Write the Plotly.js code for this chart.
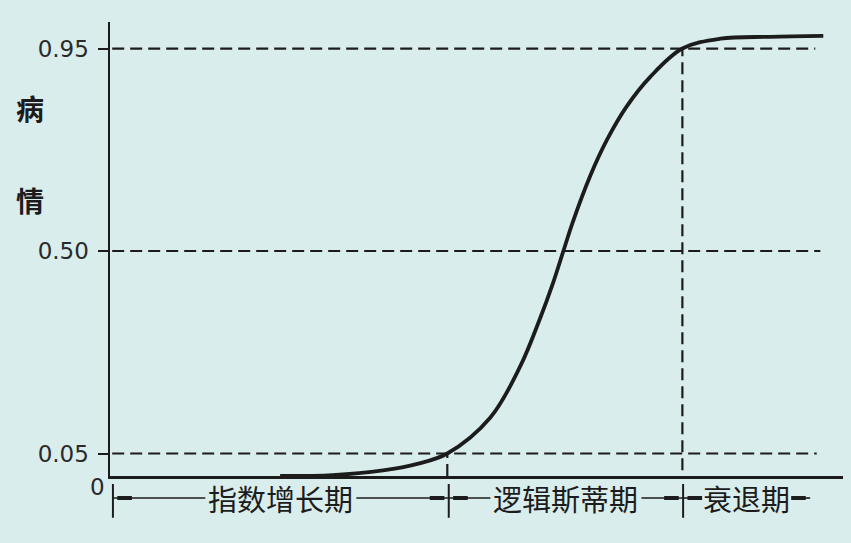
<!DOCTYPE html>
<html>
<head>
<meta charset="utf-8">
<script src="https://cdn.plot.ly/plotly-3.0.1.min.js"></script>
<style>html,body{margin:0;padding:0;background:#d9edec;}#chart{width:851px;height:543px;}</style>
</head>
<body>
<div id="chart"></div>
<script>
// Logistic disease progression curve (schematic), time in arbitrary units
var curveX = [23.3, 30.5, 37.4, 42.1, 46.2, 52.1, 56.2, 58.9, 60.7, 62.1, 63.4, 65.8, 68.1, 70.8, 74.0, 78.4, 83.6, 90.4, 97.7];
var curveY = [0, 0.002, 0.0125, 0.027, 0.05, 0.130, 0.244, 0.350, 0.430, 0.5, 0.565, 0.668, 0.748, 0.822, 0.887, 0.95, 0.972, 0.976, 0.978];

// reference levels and where the curve reaches them
var levels = [0.05, 0.50, 0.95];
var levelLabels = ['0.05', '0.50', '0.95'];
var levelEnds = [96.8, 97.3, 96.6];
var crossX = [46.2, 78.4];
var crossY = [0.05, 0.95];
var crossBottom = [0, 0.013];

// phases along the time axis
var phaseNames = ['指数增长期', '逻辑斯蒂期', '衰退期'];
var phaseStart = [0.4, 46.4, 78.5];
var phaseEnd = [46.4, 78.5, 95.9];

var ink = '#1c1c1c';
var bg = '#d9edec';
var dash = '12px,6px';
var labelSize = 29;
var pxPerUnit = 733 / 100.4;

var traces = [];
levels.forEach(function (lv, i) {
  traces.push({x: [0.3, levelEnds[i]], y: [lv, lv], mode: 'lines', hoverinfo: 'skip',
    line: {color: ink, width: 2.2, dash: dash}, showlegend: false});
});
crossX.forEach(function (cx, i) {
  traces.push({x: [cx, cx], y: [crossBottom[i], crossY[i]], mode: 'lines', hoverinfo: 'skip',
    line: {color: ink, width: 2.2, dash: dash}, showlegend: false});
});
traces.push({x: curveX, y: curveY, mode: 'lines', line: {color: ink, width: 3.8, shape: 'spline', smoothing: 1},
  showlegend: false});

var barY = -0.0485;
var shapes = [];
var annotations = [];
phaseNames.forEach(function (name, i) {
  var s = phaseStart[i], e = phaseEnd[i], c = (s + e) / 2;
  var half = (name.length * labelSize / 2 + 3) / pxPerUnit;
  shapes.push({type: 'line', xref: 'x', yref: 'paper', x0: s, x1: c - half, y0: barY, y1: barY,
    line: {color: ink, width: 1.6}});
  shapes.push({type: 'line', xref: 'x', yref: 'paper', x0: c + half, x1: e, y0: barY, y1: barY,
    line: {color: ink, width: 1.6}});
  shapes.push({type: 'line', xref: 'x', yref: 'paper', x0: s, x1: s, y0: -0.0176, y1: -0.092,
    line: {color: ink, width: 2}});
  shapes.push({type: 'line', xref: 'x', yref: 'paper', x0: s + 0.6, x1: s + 2.6, y0: barY, y1: barY,
    line: {color: ink, width: 4}});
  shapes.push({type: 'line', xref: 'x', yref: 'paper', x0: e - 2.6, x1: e - 0.6, y0: barY, y1: barY,
    line: {color: ink, width: 4}});
  annotations.push({x: c, y: barY, xref: 'x', yref: 'paper', text: name, showarrow: false,
    xanchor: 'center', yanchor: 'middle',
    font: {family: 'Noto Sans CJK SC', size: labelSize, color: ink}});
});

annotations.push({x: -0.0177, y: -0.024, xref: 'paper', yref: 'paper', text: '0', showarrow: false,
  xanchor: 'center', yanchor: 'middle', font: {family: 'DejaVu Sans', size: 23, color: '#2a2a2a'}});
annotations.push({x: -0.109, y: 0.8106, xref: 'paper', yref: 'paper', text: '<b>病</b>', showarrow: false,
  xanchor: 'center', yanchor: 'middle', font: {family: 'Noto Sans CJK SC', size: 28, color: ink}});
annotations.push({x: -0.109, y: 0.608, xref: 'paper', yref: 'paper', text: '<b>情</b>', showarrow: false,
  xanchor: 'center', yanchor: 'middle', font: {family: 'Noto Sans CJK SC', size: 28, color: ink}});

var layout = {
  width: 851, height: 543,
  margin: {l: 110, r: 8, t: 22, b: 67, pad: 0},
  paper_bgcolor: bg, plot_bgcolor: bg,
  showlegend: false,
  xaxis: {range: [0, 100.4], showline: true, linewidth: 2.5, linecolor: ink, showticklabels: false,
    ticks: '', showgrid: false, zeroline: false, fixedrange: true},
  yaxis: {range: [0, 1.009], showline: true, linewidth: 2.5, linecolor: ink, tickvals: levels, ticktext: levelLabels,
    ticks: 'outside', ticklen: 10, tickwidth: 2, tickcolor: ink, showgrid: false, zeroline: false,
    ticklabelstandoff: 4,
    tickfont: {family: 'DejaVu Sans', size: 23, color: '#2a2a2a'}, fixedrange: true},
  shapes: shapes,
  annotations: annotations
};

Plotly.newPlot('chart', traces, layout, {displayModeBar: false, staticPlot: true});
</script>
</body>
</html>
